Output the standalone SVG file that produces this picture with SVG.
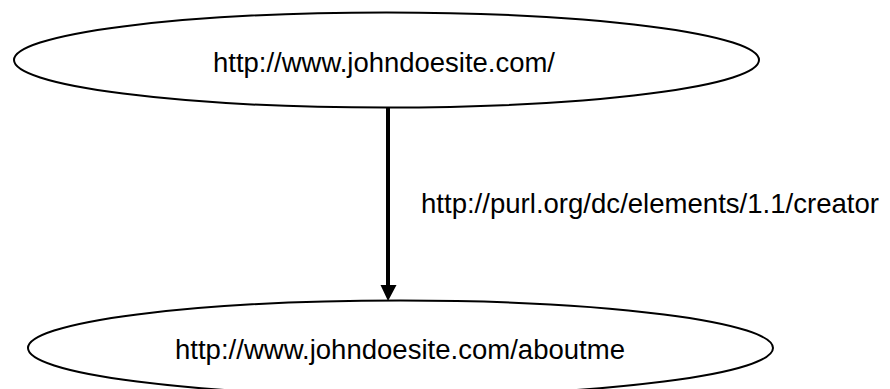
<svg xmlns="http://www.w3.org/2000/svg" width="890" height="389" viewBox="0 0 890 389">
<style>
.node ellipse{fill:#fff;stroke:#000;stroke-width:2}
.lbl{font-family:"Liberation Sans","DejaVu Sans",sans-serif;fill:#000}
.edge line{stroke:#000;stroke-width:4}
.edge polygon{fill:#000}
</style>
<rect width="890" height="389" fill="#fff"/>
<g id="node-root" class="node">
<ellipse cx="386.5" cy="60" rx="372.5" ry="47.5"/>
<text class="lbl" x="213" y="72" font-size="27" textLength="342" lengthAdjust="spacingAndGlyphs">http://www.johndoesite.com/</text>
</g>
<g id="node-aboutme" class="node">
<ellipse cx="400.5" cy="348" rx="372.5" ry="47.5"/>
<text class="lbl" x="175" y="359" font-size="27" textLength="450" lengthAdjust="spacingAndGlyphs">http://www.johndoesite.com/aboutme</text>
</g>
<g id="connectors" class="edge">
<line x1="388" y1="108" x2="388" y2="286"/>
<polygon points="380.5,285 396.5,285 388,301"/>
<text class="lbl" x="421" y="213" font-size="28" textLength="458" lengthAdjust="spacingAndGlyphs">http://purl.org/dc/elements/1.1/creator</text>
</g>
</svg>
